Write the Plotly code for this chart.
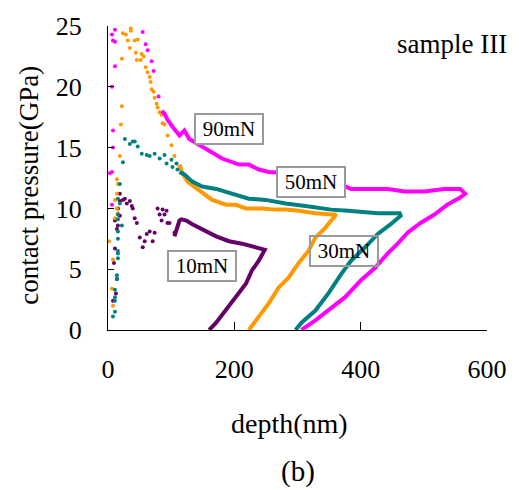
import plotly.graph_objects as go

# ---------------- data (depth nm, contact pressure GPa) ----------------
# 90 mN (magenta)
m90_dots_x = [11.0, 6.3, 7.9, 11.0, 11.0, 6.3, 7.9, 7.9, 6.3, 3.1, 6.3,
              55.0, 59.7, 62.8, 69.1, 72.3, 80.1]
m90_dots_y = [24.7, 24.3, 23.8, 23.7, 21.7, 20.0, 16.4, 15.0, 13.0, 12.9, 10.3,
              24.5, 23.5, 23.0, 22.1, 21.3, 19.2]
m90_x = [84.8, 89.5, 94.2, 99.0, 105.2, 113.1, 120.9, 128.8, 144.5, 160.2, 180.6,
         207.3, 223.0, 238.7, 254.5, 281.2, 301.6, 328.3, 353.4, 375.4, 384.8,
         406.8, 442.9, 469.6, 501.0, 532.5, 557.6, 565.5, 557.6, 537.2, 516.8,
         494.8, 474.3, 458.6, 442.9, 422.5, 400.5, 375.4, 348.7, 328.3, 306.3]
m90_y = [18.0, 17.8, 17.3, 16.9, 16.5, 16.0, 16.4, 15.7, 15.2, 14.7, 14.1,
         13.6, 13.6, 13.2, 13.0, 12.9, 12.6, 12.4, 12.1, 11.8, 11.6,
         11.6, 11.6, 11.4, 11.4, 11.6, 11.6, 11.2, 10.9, 10.3, 9.5,
         8.8, 8.0, 7.1, 6.3, 5.1, 4.1, 2.7, 1.6, 0.8, 0.0]

# 50 mN (teal)
m50_dots_x = [26.7, 34.6, 42.4, 47.1, 39.3, 23.6, 53.4, 61.3, 66.0, 73.8, 81.7,
              89.5, 92.7, 100.5, 102.1, 108.4, 110.0,
              18.8, 15.7, 18.8, 15.7, 15.7, 22.0, 15.7, 15.7, 15.7, 15.7, 15.7,
              14.1, 14.1, 11.0, 11.0, 11.0, 11.0, 7.9]
m50_dots_y = [15.7, 15.3, 15.5, 15.1, 15.5, 13.8, 14.5, 14.4, 14.3, 14.5, 14.1,
              14.4, 13.7, 14.0, 13.4, 13.7, 13.2,
              12.0, 10.8, 10.4, 9.5, 9.1, 8.6, 8.1, 7.5, 6.5, 6.3, 5.9,
              4.5, 4.2, 3.3, 2.7, 2.4, 1.5, 1.1]
m50_x = [113.1, 120.9, 133.5, 149.2, 171.2, 196.3, 223.0, 249.7, 281.2, 312.6,
         353.4, 380.1, 427.2, 461.8, 463.4, 447.6, 427.2, 406.8, 384.8, 369.1,
         348.7, 328.3, 306.3, 296.9]
m50_y = [13.0, 12.8, 12.2, 11.8, 11.6, 11.2, 10.8, 10.7, 10.4, 10.2,
         9.9, 9.8, 9.6, 9.6, 9.4, 8.7, 7.9, 6.8, 5.7, 4.6,
         3.0, 1.6, 0.6, 0.0]

# 30 mN (orange)
m30_dots_x = [22.0, 22.0, 20.4, 18.8, 14.1, 15.7, 14.1, 11.0, 14.1, 15.7, 11.0,
              1.6, 7.9, 6.3, 7.9,
              23.6, 28.3, 36.1, 36.1, 31.4, 34.6, 42.4, 47.1, 44.0, 45.6, 53.4,
              56.5, 51.8, 59.7, 62.8, 66.0, 67.5, 69.1, 72.3, 73.8, 77.0, 78.5,
              81.7, 84.8, 86.4, 89.5, 94.2, 100.5, 105.2]
m30_dots_y = [22.3, 18.4, 16.9, 14.3, 12.4, 12.0, 11.2, 10.7, 10.0, 9.6, 9.2,
              7.3, 5.8, 3.4, 2.0,
              24.4, 24.3, 24.8, 24.6, 23.8, 23.2, 23.8, 23.9, 22.8, 22.2, 22.7,
              22.5, 22.2, 21.6, 21.2, 20.8, 20.4, 19.8, 19.6, 19.1, 18.6, 18.3,
              17.9, 17.7, 17.0, 16.9, 16.0, 15.2, 14.3]
m30_x = [113.1, 117.8, 125.7, 136.7, 147.6, 157.1, 164.9, 186.9, 202.6, 218.3,
         243.5, 265.4, 281.2, 301.6, 328.3, 353.4, 361.3, 353.4, 344.0, 328.3,
         317.3, 301.6, 285.9, 270.2, 254.5, 238.7, 223.0]
m30_y = [13.6, 12.9, 12.2, 11.8, 11.4, 11.0, 10.7, 10.3, 10.3, 10.0,
         10.0, 9.9, 9.9, 9.8, 9.6, 9.5, 9.5, 9.0, 8.4, 7.6,
         6.5, 5.5, 4.3, 3.5, 2.2, 1.1, 0.0]

# 10 mN (purple)
m10_dots_x = [26.7, 29.8, 34.6, 37.7, 42.4, 45.6, 18.8, 15.7, 18.8, 11.0, 15.7,
              18.8, 23.6, 39.3, 50.3, 55.0, 58.1, 61.3, 66.0, 70.7, 73.8, 78.5,
              81.7, 84.8, 86.4, 89.5, 92.7, 94.2, 97.4, 105.2,
              14.1, 11.0, 9.4, 14.1, 12.6, 7.9]
m10_dots_y = [10.8, 10.4, 10.6, 10.2, 9.2, 8.8, 10.6, 10.0, 9.4, 9.0, 8.6,
              11.2, 10.7, 10.0, 7.6, 6.8, 7.3, 7.9, 8.1, 7.3, 8.0, 10.0,
              9.5, 9.0, 9.9, 9.5, 9.8, 8.8, 8.8, 8.0,
              8.3, 6.7, 5.5, 4.2, 3.0, 2.4]
m10_x = [105.2, 110.0, 113.1, 116.2, 124.1, 133.5, 149.2, 171.2, 191.6, 212.0,
         234.0, 248.2, 238.7, 227.8, 218.3, 202.6, 186.9, 171.2, 160.2]
m10_y = [7.7, 8.4, 9.0, 9.1, 9.0, 8.7, 8.3, 7.7, 7.3, 7.1,
         6.8, 6.6, 5.7, 4.9, 3.8, 2.7, 1.6, 0.6, 0.0]

labels = ["10mN", "30mN", "50mN", "90mN"]
label_x = [148.4, 373.0, 321.2, 191.6]
label_y = [5.29, 6.47, 12.17, 16.57]

x_ticks = [0, 200, 400, 600]
y_ticks = [0, 5, 10, 15, 20, 25]

C10, C30, C50, C90 = "#660066", "#FF9900", "#008080", "#FF00FF"
FONT = "Liberation Serif"

fig = go.Figure()
series = [
    (m10_dots_x, m10_dots_y, m10_x, m10_y, C10),
    (m30_dots_x, m30_dots_y, m30_x, m30_y, C30),
    (m50_dots_x, m50_dots_y, m50_x, m50_y, C50),
    (m90_dots_x, m90_dots_y, m90_x, m90_y, C90),
]
for dx, dy, lx, ly, c in series:
    fig.add_trace(go.Scatter(x=dx, y=dy, mode="markers",
                             marker=dict(color=c, size=4, line=dict(width=0)),
                             showlegend=False, hoverinfo="skip"))
    fig.add_trace(go.Scatter(x=lx, y=ly, mode="lines",
                             line=dict(color=c, width=4),
                             showlegend=False, hoverinfo="skip"))

for i, t in enumerate(labels):
    fig.add_annotation(x=label_x[i], y=label_y[i], xref="x", yref="y", text=t,
                       showarrow=False, font=dict(family=FONT, size=21, color="black"),
                       bordercolor="#9a9a9a", borderwidth=2, borderpad=1,
                       bgcolor="rgba(0,0,0,0)" if t == "30mN" else "white",
                       width=64, height=26)

fig.add_annotation(x=0.48, y=-0.306, xref="paper", yref="paper", text="depth(nm)",
                   showarrow=False, font=dict(family=FONT, size=28, color="black"),
                   xanchor="center", yanchor="middle")
fig.add_annotation(x=0.5, y=-0.466, xref="paper", yref="paper", text="(b)",
                   showarrow=False, font=dict(family=FONT, size=29, color="black"),
                   xanchor="center", yanchor="middle")
fig.add_annotation(x=-0.207, y=0.476, xref="paper", yref="paper",
                   text="contact pressure(GPa)", textangle=-90,
                   showarrow=False, font=dict(family=FONT, size=27, color="black"),
                   xanchor="center", yanchor="middle")
fig.add_annotation(x=0.907, y=0.941, xref="paper", yref="paper", text="sample III",
                   showarrow=False, font=dict(family=FONT, size=27, color="black"),
                   xanchor="center", yanchor="middle")

fig.update_layout(
    width=519, height=490,
    margin=dict(l=108, r=29, t=23, b=160),
    paper_bgcolor="white", plot_bgcolor="white",
    font=dict(family=FONT, color="black"),
    xaxis=dict(range=[0, 600], tickvals=x_ticks, ticks="inside", ticklen=8,
               tickcolor="black", showline=True, linecolor="black", linewidth=1,
               showgrid=False, zeroline=False, tickfont=dict(size=26),
               ticklabelstandoff=16),
    yaxis=dict(range=[0, 25], tickvals=y_ticks, ticks="inside", ticklen=6,
               tickcolor="black", showline=True, linecolor="black", linewidth=1,
               showgrid=False, zeroline=False, tickfont=dict(size=26),
               ticklabelstandoff=20),
)

fig.write_html("out.html", config={"displayModeBar": False},
               post_script="document.body.style.margin='0';document.body.style.overflow='hidden';")
